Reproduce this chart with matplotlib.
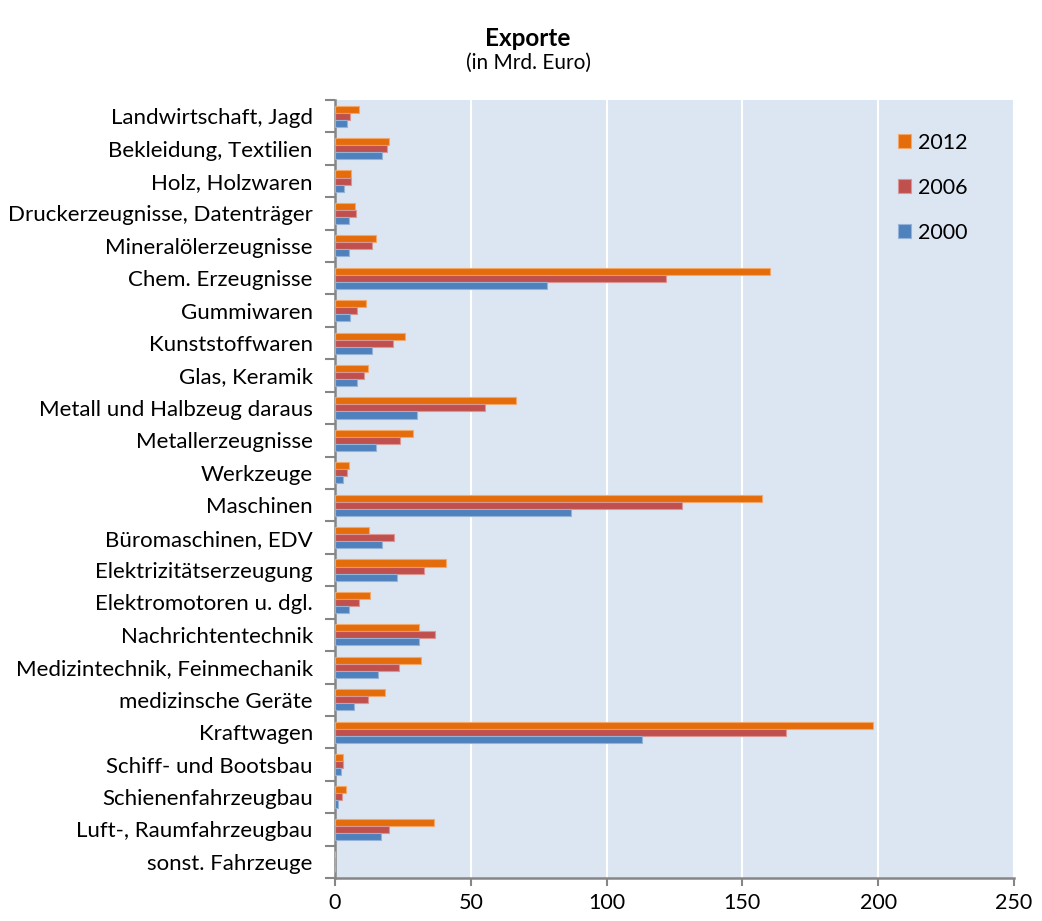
import numpy as np
import matplotlib.pyplot as plt
import matplotlib.ticker as mticker

plt.rcParams['font.family'] = ['Lato', 'DejaVu Sans']

# Kategorien (von oben nach unten)
kategorien = [
    "Landwirtschaft, Jagd", "Bekleidung, Textilien", "Holz, Holzwaren",
    "Druckerzeugnisse, Datenträger", "Mineralölerzeugnisse", "Chem. Erzeugnisse",
    "Gummiwaren", "Kunststoffwaren", "Glas, Keramik", "Metall und Halbzeug daraus",
    "Metallerzeugnisse", "Werkzeuge", "Maschinen", "Büromaschinen, EDV",
    "Elektrizitätserzeugung", "Elektromotoren u. dgl.", "Nachrichtentechnik",
    "Medizintechnik, Feinmechanik", "medizinsche Geräte", "Kraftwagen",
    "Schiff- und Bootsbau", "Schienenfahrzeugbau", "Luft-, Raumfahrzeugbau",
    "sonst. Fahrzeuge",
]

werte_2012 = [8.8, 19.8, 5.8, 7.3, 15.1, 160.0, 11.4, 25.9, 12.0, 66.6,
              28.8, 5.3, 157.3, 12.5, 40.8, 13.0, 30.9, 31.6, 18.5, 198.2,
              3.0, 3.9, 36.6, 0.0]
werte_2006 = [5.6, 19.2, 5.9, 7.6, 13.5, 122.0, 8.2, 21.5, 10.8, 55.3,
              24.1, 4.4, 127.9, 21.6, 32.9, 8.7, 36.7, 23.6, 12.3, 165.9,
              2.8, 2.6, 19.9, 0.0]
werte_2000 = [4.4, 17.4, 3.4, 5.0, 5.3, 78.0, 5.6, 13.7, 8.1, 30.2,
              15.0, 2.9, 86.9, 17.2, 22.9, 5.3, 30.8, 15.9, 6.9, 112.9,
              2.1, 1.2, 16.8, 0.0]

jahre = ["2012", "2006", "2000"]
farben = ["#E46C0A", "#C0504D", "#4F81BD"]
kanten = ["#F2A76B", "#DB9593", "#95B3D7"]

fig = plt.figure(figsize=(10.42, 9.21), dpi=100)
ax = fig.add_axes([335 / 1042, 1 - 878 / 921, 679 / 1042, 778 / 921])
ax.set_facecolor("#DCE6F2")

n = len(kategorien)
y = np.arange(n)
h = 0.217
for i, (werte, farbe, kante, jahr) in enumerate(zip([werte_2012, werte_2006, werte_2000], farben, kanten, jahre)):
    ax.barh(y + (i - 1) * h, werte, height=h, color=farbe, edgecolor=kante,
            linewidth=0.8, label=jahr, zorder=3)

ax.set_ylim(n - 0.5, -0.5)
ax.set_xlim(0, 250)

# Gitterlinien
ax.xaxis.set_major_locator(mticker.MultipleLocator(50))
ax.grid(axis="x", color="white", linewidth=1.5, zorder=1)
ax.set_axisbelow(True)

# y-Achse: Striche zwischen Kategorien, Beschriftung in der Mitte
ax.set_yticks(np.arange(n + 1) - 0.5)
ax.set_yticklabels([])
ax.set_yticks(y, minor=True)
ax.set_yticklabels(kategorien, minor=True, fontsize=16)
ax.tick_params(axis="y", which="major", length=7, width=1.5, color="#868686", direction="out")
ax.tick_params(axis="y", which="minor", length=0, pad=16)
ax.tick_params(axis="x", length=6, width=1.5, color="#868686", labelsize=15.5, pad=5)

for s in ["top", "right"]:
    ax.spines[s].set_visible(False)
for s in ["left", "bottom"]:
    ax.spines[s].set_color("#868686")
    ax.spines[s].set_linewidth(1.8)

leg = ax.legend(loc="upper left", bbox_to_anchor=(898 / 1042, 1 - 133 / 921),
                bbox_transform=fig.transFigure, frameon=False,
                fontsize=15.5, labelspacing=1.15, handlelength=0.62, handleheight=0.62,
                handletextpad=0.3, borderpad=0, borderaxespad=0)

fig.text(528 / 1042, 1 - 39 / 921, "Exporte", ha="center", va="center",
         fontsize=17.5, fontweight="bold")
fig.text(528 / 1042, 1 - 63 / 921, "(in Mrd. Euro)", ha="center", va="center", fontsize=15)

fig.savefig("out.png", dpi=100)
